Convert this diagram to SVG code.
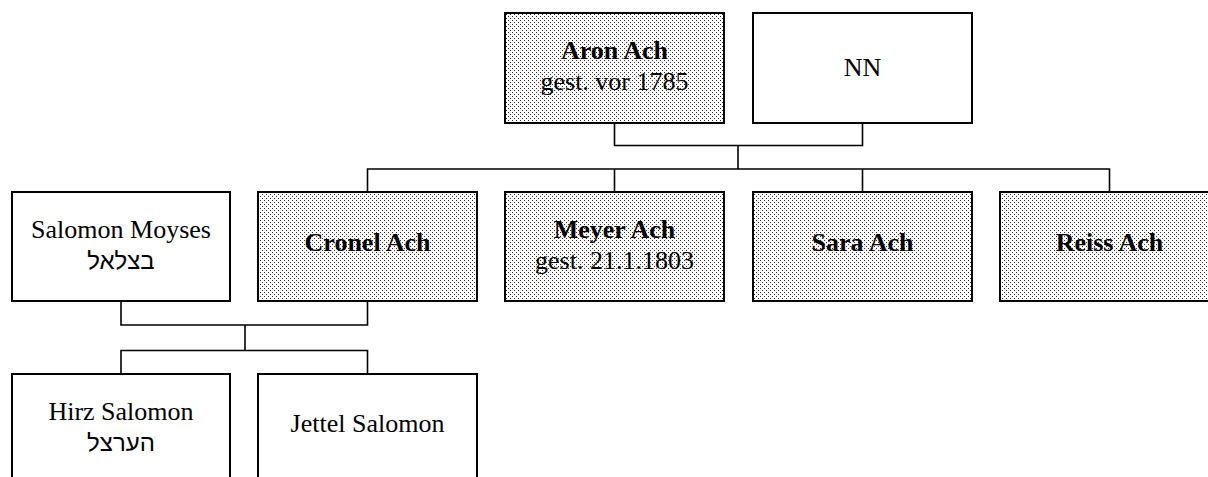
<svg xmlns="http://www.w3.org/2000/svg" width="1208" height="477" viewBox="0 0 1208 477">
<style>
.box{stroke:#000;stroke-width:2}
.plain{fill:#fff}
.dot{fill:url(#dots)}
.t{font-family:"Liberation Serif","Times New Roman","DejaVu Serif",serif;font-size:26px;fill:#000;text-anchor:middle}
.b{font-weight:bold}
.he{font-family:"Liberation Sans","DejaVu Sans",sans-serif;font-size:24px}
.con{fill:none;stroke:#000;stroke-width:1.6}
</style>
<defs>
<pattern id="dots" width="4" height="4" patternUnits="userSpaceOnUse">
<rect width="4" height="4" fill="#fff"/>
<rect x="0" y="0" width="1" height="1" fill="#333"/>
<rect x="2" y="2" width="1" height="1" fill="#333"/>
</pattern>
</defs>
<rect width="1208" height="477" fill="#fff"/>
<g id="connectors">
<path class="con" d="M614.5 123V145.5H862.5V123"/>
<path class="con" d="M738 145.5V169"/>
<path class="con" d="M367.5 192V169H1109.5V192M614.5 169V192M862.5 169V192"/>
<path class="con" d="M121 301V325H367.5V301"/>
<path class="con" d="M245 325V350.5"/>
<path class="con" d="M121 374V350.5H367.5V374"/>
</g>
<g id="aron">
<rect class="box dot" x="505" y="13" width="219" height="110"/>
<text class="t b" x="614.5" y="59">Aron Ach</text>
<text class="t" x="614.5" y="90">gest. vor 1785</text>
</g>
<g id="nn">
<rect class="box plain" x="753" y="13" width="219" height="110"/>
<text class="t" x="862.5" y="76">NN</text>
</g>
<g id="salomon-moyses">
<rect class="box plain" x="12" y="192" width="218" height="109"/>
<text class="t" x="121" y="238">Salomon Moyses</text>
<text class="t he" x="121" y="269" direction="rtl">בצלאל</text>
</g>
<g id="cronel">
<rect class="box dot" x="258" y="192" width="219" height="109"/>
<text class="t b" x="367.5" y="251">Cronel Ach</text>
</g>
<g id="meyer">
<rect class="box dot" x="505" y="192" width="219" height="109"/>
<text class="t b" x="614.5" y="238">Meyer Ach</text>
<text class="t" x="614.5" y="269">gest. 21.1.1803</text>
</g>
<g id="sara">
<rect class="box dot" x="753" y="192" width="219" height="109"/>
<text class="t b" x="862.5" y="251">Sara Ach</text>
</g>
<g id="reiss">
<rect class="box dot" x="1000" y="192" width="219" height="109"/>
<text class="t b" x="1109.5" y="251">Reiss Ach</text>
</g>
<g id="hirz">
<rect class="box plain" x="12" y="374" width="218" height="110"/>
<text class="t" x="121" y="420">Hirz Salomon</text>
<text class="t he" x="121" y="451" direction="rtl">הערצל</text>
</g>
<g id="jettel">
<rect class="box plain" x="258" y="374" width="219" height="110"/>
<text class="t" x="367.5" y="432">Jettel Salomon</text>
</g>
</svg>
